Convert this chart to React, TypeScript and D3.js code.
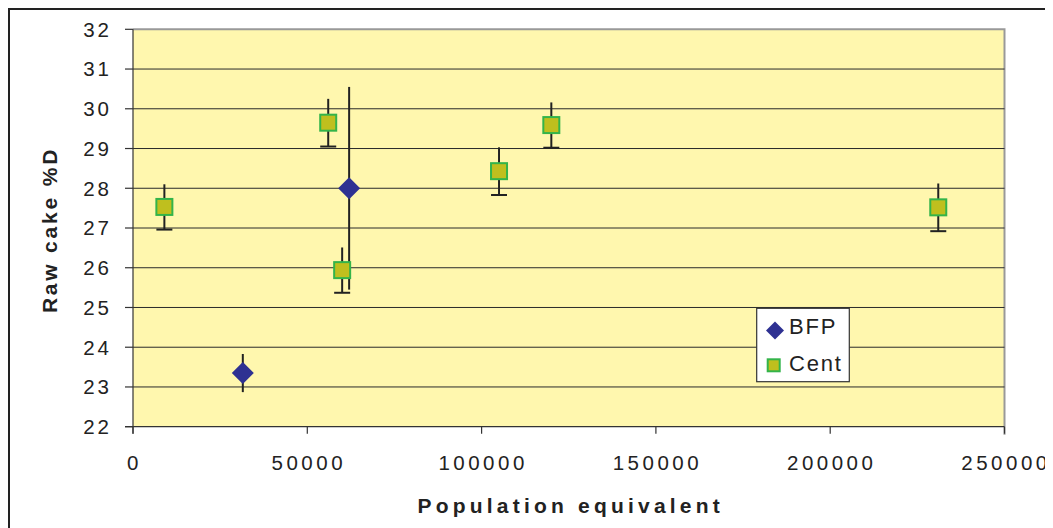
import React from "react";
import * as d3 from "d3";

// Population equivalent vs raw cake dry solids, with +/- error bars
const bfpX = [31500, 62000];
const bfpY = [23.35, 28.0];
const bfpErr = [0.48, 2.55];

const centX = [9000, 56000, 60000, 105000, 120000, 231000];
const centY = [27.53, 29.65, 25.94, 28.43, 29.59, 27.52];
const centErr = [0.57, 0.6, 0.57, 0.6, 0.57, 0.6];

const xTicks = [0, 50000, 100000, 150000, 200000, 250000];
const yTicks = [22, 23, 24, 25, 26, 27, 28, 29, 30, 31, 32];

const W = 1045;
const H = 520;
const plot = { left: 125, top: 21.3, right: 996.5, bottom: 418.7 };
const FONT = "'Liberation Sans', Arial, sans-serif";

export default function App() {
  const x = d3.scaleLinear().domain([0, 250000]).range([plot.left, plot.right]);
  const y = d3.scaleLinear().domain([22, 32]).range([plot.bottom, plot.top]);

  const diamond = (cx: number, cy: number, r: number) =>
    `M${cx},${cy - r}L${cx + r},${cy}L${cx},${cy + r}L${cx - r},${cy}Z`;

  const sq = 16;

  return (
    <svg width={W} height={H} style={{ display: "block" }}>
      {/* outer frame */}
      <path d={`M1,${H + 10}V1H${W + 10}`} fill="none" stroke="#222" strokeWidth={2} />

      {/* plot area */}
      <rect
        x={plot.left}
        y={plot.top}
        width={plot.right - plot.left}
        height={plot.bottom - plot.top}
        fill="#fff7ae"
      />
      {/* plot border top/right */}
      <path
        d={`M${plot.left},${plot.top}H${plot.right}V${plot.bottom + 8}`}
        fill="none"
        stroke="#999"
        strokeWidth={2}
      />

      {/* gridlines */}
      {yTicks.slice(1, -1).map((t) => (
        <line
          key={`g${t}`}
          x1={plot.left}
          x2={plot.right}
          y1={y(t)}
          y2={y(t)}
          stroke="#2a2a2a"
          strokeWidth={1}
        />
      ))}

      {/* axes */}
      <line x1={plot.left} x2={plot.left} y1={plot.top} y2={plot.bottom + 7} stroke="#333" strokeWidth={1.2} />
      <line x1={plot.left - 8} x2={plot.right} y1={plot.bottom} y2={plot.bottom} stroke="#333" strokeWidth={1.2} />

      {/* y ticks & labels */}
      {yTicks.map((t) => (
        <g key={`y${t}`}>
          <line x1={plot.left - 8} x2={plot.left} y1={y(t)} y2={y(t)} stroke="#333" strokeWidth={1.2} />
          <text
            x={plot.left - 21}
            y={y(t) + 7.3}
            textAnchor="end"
            fontFamily={FONT}
            fontSize={20.5}
            letterSpacing={3}
            fill="#222"
          >
            {t}
          </text>
        </g>
      ))}

      {/* x ticks & labels */}
      {xTicks.map((t) => (
        <g key={`x${t}`}>
          <line x1={x(t)} x2={x(t)} y1={plot.bottom} y2={plot.bottom + 7} stroke="#333" strokeWidth={1.2} />
          <text
            x={x(t) + 1.5}
            y={plot.bottom + 43.5}
            textAnchor="middle"
            fontFamily={FONT}
            fontSize={20.5}
            letterSpacing={3.5}
            fill="#222"
          >
            {t}
          </text>
        </g>
      ))}

      {/* axis titles */}
      <text
        x={(plot.left + plot.right) / 2 + 2}
        y={505}
        textAnchor="middle"
        fontFamily={FONT}
        fontSize={21}
        fontWeight="bold"
        letterSpacing={4.2}
        fill="#222"
      >
        Population equivalent
      </text>
      <text
        transform={`translate(49,${(plot.top + plot.bottom) / 2 + 2}) rotate(-90)`}
        textAnchor="middle"
        fontFamily={FONT}
        fontSize={21}
        fontWeight="bold"
        letterSpacing={2.8}
        fill="#222"
      >
        Raw cake %D
      </text>

      {/* error bars */}
      {bfpX.map((v, i) => (
        <line
          key={`be${i}`}
          x1={x(v)}
          x2={x(v)}
          y1={y(bfpY[i] + bfpErr[i])}
          y2={y(bfpY[i] - bfpErr[i])}
          stroke="#222"
          strokeWidth={2}
        />
      ))}
      {centX.map((v, i) => (
        <g key={`ce${i}`}>
          <line
            x1={x(v)}
            x2={x(v)}
            y1={y(centY[i] + centErr[i])}
            y2={y(centY[i] - centErr[i])}
            stroke="#222"
            strokeWidth={2}
          />
          <line
            x1={x(v) - 8}
            x2={x(v) + 8}
            y1={y(centY[i] - centErr[i])}
            y2={y(centY[i] - centErr[i])}
            stroke="#222"
            strokeWidth={2}
          />
        </g>
      ))}

      {/* markers */}
      {bfpX.map((v, i) => (
        <path key={`bm${i}`} d={diamond(x(v), y(bfpY[i]), 11)} fill="#2e3192" />
      ))}
      {centX.map((v, i) => (
        <rect
          key={`cm${i}`}
          x={x(v) - sq / 2}
          y={y(centY[i]) - sq / 2}
          width={sq}
          height={sq}
          fill="#bfbf1e"
          stroke="#33b44a"
          strokeWidth={2}
        />
      ))}

      {/* legend */}
      <g>
        <rect x={748.7} y={300.3} width={92.6} height={73.4} fill="#fff" stroke="#333" strokeWidth={1.2} />
        <path d={diamond(767, 322.5, 9)} fill="#2e3192" />
        <text x={781} y={326.3} fontFamily={FONT} fontSize={22} letterSpacing={1.8} fill="#222">
          BFP
        </text>
        <rect x={759.7} y={351.3} width={12} height={12} fill="#bfbf1e" stroke="#33b44a" strokeWidth={2} />
        <text x={781} y={362.7} fontFamily={FONT} fontSize={22} letterSpacing={1.8} fill="#222">
          Cent
        </text>
      </g>
    </svg>
  );
}
